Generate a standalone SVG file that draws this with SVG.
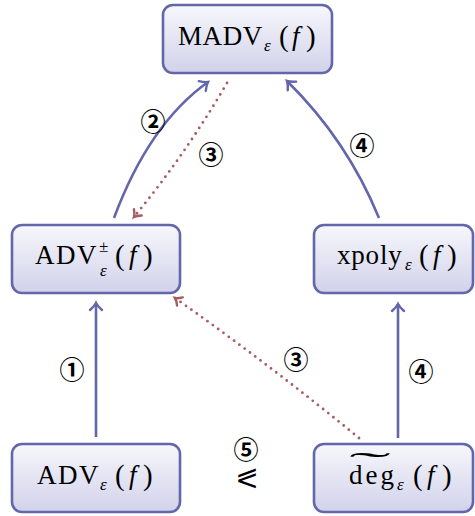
<svg xmlns="http://www.w3.org/2000/svg" width="475" height="516" viewBox="0 0 475 516">
<defs>
<linearGradient id="g" x1="0" y1="0" x2="0" y2="1">
<stop offset="0" stop-color="#f7f7fc"/>
<stop offset="1" stop-color="#d1d2ea"/>
</linearGradient>
<marker id="ab" viewBox="-10 -10 20 20" refX="0" refY="0" markerWidth="20" markerHeight="20" markerUnits="userSpaceOnUse" orient="auto" overflow="visible">
<path d="M-7,-6 Q-3,-1.5 0,0 Q-3,1.5 -7,6" fill="none" stroke="#6466aa" stroke-width="2.4" stroke-linecap="round"/>
</marker>
<marker id="ar" viewBox="-10 -10 20 20" refX="0" refY="0" markerWidth="20" markerHeight="20" markerUnits="userSpaceOnUse" orient="auto" overflow="visible">
<path d="M-6,-5 Q-2.5,-1 0,0 Q-2.5,1 -6,5" fill="none" stroke="#a65b5e" stroke-width="2.4" stroke-linecap="round"/>
</marker>
</defs>
<style>
.box{fill:url(#g);stroke:#6466aa;stroke-width:2.6}
.t{font-family:"Liberation Serif","DejaVu Serif",serif;font-size:27px;fill:#000}
.s{font-size:17px;font-style:italic}
.p{font-size:29px}
.i{font-style:italic}
.b{fill:none;stroke:#6466aa;stroke-width:2.6;marker-end:url(#ab)}
.r{fill:none;stroke:#a65b5e;stroke-width:2.8;stroke-dasharray:0 6.6;stroke-linecap:round;marker-end:url(#ar)}
.n{font-family:"Noto Sans CJK JP","DejaVu Sans",sans-serif;font-size:25px;font-weight:bold;fill:#000;text-anchor:middle}
.m{font-family:"DejaVu Sans",sans-serif;font-size:28px;fill:#000;text-anchor:middle}
</style>
<g id="connectors">
<path class="b" d="M96,437 L96,303"/>
<path class="b" d="M398,438 L398,304"/>
<path class="b" d="M114,218 Q149,124 208,82"/>
<path class="b" d="M379,218 Q347,140 287,81"/>
<path class="r" d="M227,83 Q185,155 134,217"/>
<path class="r" d="M359,438 Q270,365 175,298"/>
</g>
<g id="labels">
<text class="n" x="153" y="131">②</text>
<text class="n" x="211" y="164">③</text>
<text class="n" x="362" y="155">④</text>
<text class="n" x="72" y="379">①</text>
<text class="n" x="296" y="369">③</text>
<text class="n" x="421" y="381">④</text>
<text class="n" x="246" y="459">⑤</text>
<text class="m" transform="translate(247,482) rotate(180)" y="10">⩾</text>
</g>
<g id="madv">
<rect class="box" x="163" y="5" width="169" height="68" rx="10"/>
<text class="t" x="178" y="45"><tspan letter-spacing="0.6">MADV</tspan><tspan class="s" x="264" y="51">ε</tspan><tspan class="p" x="279" y="46">(</tspan><tspan class="i" x="292" y="45">f</tspan><tspan class="p" x="306" y="46">)</tspan></text>
</g>
<g id="advpm">
<rect class="box" x="12" y="225" width="168" height="68" rx="10"/>
<text class="t" x="35" y="264"><tspan letter-spacing="1.5">ADV</tspan><tspan class="s" x="99" y="252" style="font-style:normal">±</tspan><tspan class="s" x="100" y="276">ε</tspan><tspan class="p" x="115" y="265">(</tspan><tspan class="i" x="129" y="264">f</tspan><tspan class="p" x="143" y="265">)</tspan></text>
</g>
<g id="xpoly">
<rect class="box" x="314" y="225" width="159" height="68" rx="10"/>
<text class="t" x="337" y="264"><tspan letter-spacing="0.8">xpoly</tspan><tspan class="s" x="405" y="270">ε</tspan><tspan class="p" x="419" y="265">(</tspan><tspan class="i" x="433" y="264">f</tspan><tspan class="p" x="447" y="265">)</tspan></text>
</g>
<g id="adv">
<rect class="box" x="12" y="444" width="168" height="68" rx="10"/>
<text class="t" x="37" y="484"><tspan letter-spacing="1.5">ADV</tspan><tspan class="s" x="100" y="490">ε</tspan><tspan class="p" x="115" y="485">(</tspan><tspan class="i" x="129" y="484">f</tspan><tspan class="p" x="143" y="485">)</tspan></text>
</g>
<g id="deg">
<rect class="box" x="314" y="444" width="159" height="68" rx="10"/>
<text class="t" x="349" y="484"><tspan letter-spacing="3">deg</tspan><tspan class="s" x="397" y="490">ε</tspan><tspan class="p" x="413" y="485">(</tspan><tspan class="i" x="427" y="484">f</tspan><tspan class="p" x="442" y="485">)</tspan></text>
<text class="t" transform="translate(370,474) scale(5.2,1.3)" text-anchor="middle" style="font-size:24px">˜</text>
</g>
</svg>
